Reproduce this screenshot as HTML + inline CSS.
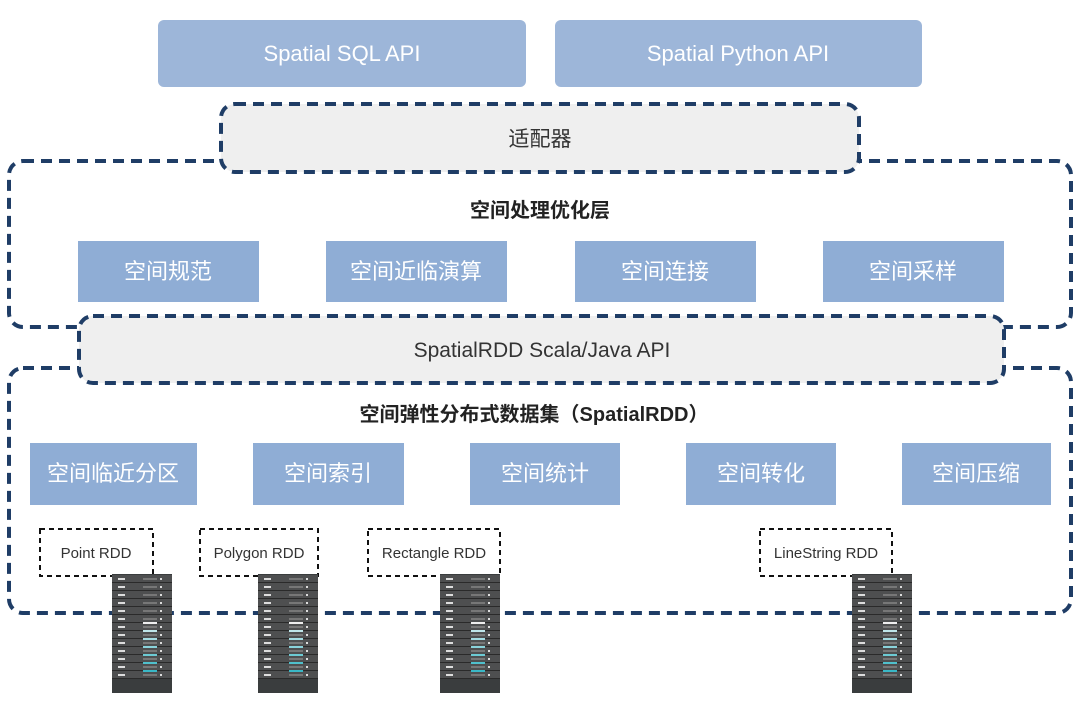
<!DOCTYPE html>
<html><head><meta charset="utf-8"><style>
body{margin:0;background:#fff;}
svg{display:block;font-family:"Liberation Sans","Noto Sans CJK SC",sans-serif;}
</style></head><body>
<svg width="1080" height="713" viewBox="0 0 1080 713" xmlns="http://www.w3.org/2000/svg">
<defs>
<pattern id="rack" x="0" y="575" width="60" height="8" patternUnits="userSpaceOnUse">
<rect width="60" height="8" fill="#4e4f50"/>
<rect y="7" width="60" height="1" fill="#2a2a2a"/>
<rect x="6" y="3" width="7" height="2" fill="#ddd"/>
<rect x="31" y="3" width="14" height="2" fill="#777"/>
<rect x="48" y="3" width="2" height="2" fill="#ddd"/>
</pattern>
<g id="srv">
<rect x="0" y="574" width="60" height="119" fill="#3a3d3e"/>
<rect x="0" y="575" width="60" height="104" fill="url(#rack)"/>
<rect x="31" y="622" width="14" height="2" fill="#eee"/>
<rect x="31" y="630" width="14" height="2" fill="#bfe6ea"/>
<rect x="31" y="638" width="14" height="2" fill="#a5dde3"/>
<rect x="31" y="646" width="14" height="2" fill="#8ad3db"/>
<rect x="31" y="654" width="14" height="2" fill="#6ccad3"/>
<rect x="31" y="662" width="14" height="2" fill="#4fc0cc"/>
<rect x="31" y="670" width="14" height="2" fill="#3ab8c6"/>
</g>
</defs>
<rect x="158" y="20" width="368" height="67" rx="6" fill="#9db6d9"/>
<text x="342" y="61" font-size="22" fill="#fff" text-anchor="middle">Spatial SQL API</text>
<rect x="555" y="20" width="367" height="67" rx="6" fill="#9db6d9"/>
<text x="738" y="61" font-size="22" fill="#fff" text-anchor="middle">Spatial Python API</text>

<g fill="none" stroke="#1f3d66" stroke-width="4" stroke-dasharray="11 7">
<rect x="9" y="161" width="1062" height="166" rx="14"/>
<rect x="9" y="368" width="1062" height="245" rx="14"/>
</g>
<rect x="221" y="104" width="638" height="68" rx="14" fill="#efefef" stroke="#1f3d66" stroke-width="4" stroke-dasharray="11 7"/>
<text x="540" y="146" font-size="21" fill="#333" text-anchor="middle">适配器</text>

<text x="540" y="217" font-size="20" font-weight="bold" fill="#222" text-anchor="middle">空间处理优化层</text>
<g fill="#8fadd5">
<rect x="78" y="241" width="181" height="61"/>
<rect x="326" y="241" width="181" height="61"/>
<rect x="575" y="241" width="181" height="61"/>
<rect x="823" y="241" width="181" height="61"/>
</g>
<g font-size="22" fill="#fff" text-anchor="middle">
<text x="168" y="279">空间规范</text>
<text x="416" y="279">空间近临演算</text>
<text x="665" y="279">空间连接</text>
<text x="913" y="279">空间采样</text>
</g>

<rect x="79" y="316" width="925" height="67" rx="14" fill="#efefef" stroke="#1f3d66" stroke-width="4" stroke-dasharray="11 7"/>
<text x="542" y="357" font-size="21" fill="#333" text-anchor="middle">SpatialRDD Scala/Java API</text>

<text x="534" y="421" font-size="20" font-weight="bold" fill="#222" text-anchor="middle">空间弹性分布式数据集（SpatialRDD）</text>
<g fill="#8fadd5">
<rect x="30" y="443" width="167" height="62"/>
<rect x="253" y="443" width="151" height="62"/>
<rect x="470" y="443" width="150" height="62"/>
<rect x="686" y="443" width="150" height="62"/>
<rect x="902" y="443" width="149" height="62"/>
</g>
<g font-size="22" fill="#fff" text-anchor="middle">
<text x="113" y="481">空间临近分区</text>
<text x="328" y="481">空间索引</text>
<text x="545" y="481">空间统计</text>
<text x="761" y="481">空间转化</text>
<text x="976" y="481">空间压缩</text>
</g>

<g fill="#fff" stroke="#111" stroke-width="2" stroke-dasharray="5 4">
<rect x="40" y="529" width="113" height="47"/>
<rect x="200" y="529" width="118" height="47"/>
<rect x="368" y="529" width="132" height="47"/>
<rect x="760" y="529" width="132" height="47"/>
</g>
<g font-size="15" fill="#333" text-anchor="middle">
<text x="96" y="558">Point RDD</text>
<text x="259" y="558">Polygon RDD</text>
<text x="434" y="558">Rectangle RDD</text>
<text x="826" y="558">LineString RDD</text>
</g>

<use href="#srv" transform="translate(112,0)"/>
<use href="#srv" transform="translate(258,0)"/>
<use href="#srv" transform="translate(440,0)"/>
<use href="#srv" transform="translate(852,0)"/>
</svg>
</body></html>
